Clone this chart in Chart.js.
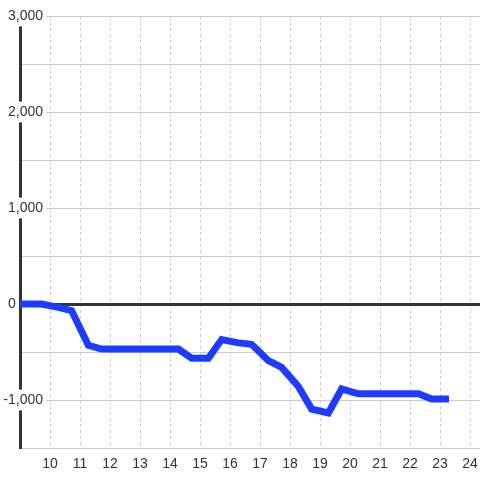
<!DOCTYPE html>
<html><head><meta charset="utf-8">
<script src="https://cdn.jsdelivr.net/npm/chart.js@4"></script>
<style>html,body{margin:0;padding:0;background:#fff}#wrap{width:480px;height:480px}</style>
</head><body><div id="wrap"><canvas id="c"></canvas></div>
<script>
const xValues = [8.72, 9.28, 9.72, 10.28, 10.72, 11.28, 11.72, 12.28, 12.72, 13.28, 13.72, 14.28, 14.72, 15.28, 15.72, 16.28, 16.72, 17.28, 17.72, 18.28, 18.72, 19.28, 19.72, 20.28, 20.72, 21.28, 21.72, 22.28, 22.72, 23.3];
const yValues = [0, 0, 0, -35, -70, -430, -470, -470, -470, -470, -470, -470, -565, -565, -370, -405, -420, -590, -660, -860, -1095, -1135, -885, -935, -935, -935, -935, -935, -990, -990];
const xTicks = [10, 11, 12, 13, 14, 15, 16, 17, 18, 19, 20, 21, 22, 23, 24];
const yTicks = [-1500, -1000, -500, 0, 500, 1000, 1500, 2000, 2500, 3000];
const yTickLabels = {'-1000': '-1,000', '0': '0       ', '1000': '1,000', '2000': '2,000', '3000': '3,000'};

const FONT_FAMILY = "'Liberation Sans', Arial, sans-serif";
const FONT_SIZE = 14;
const FONT = {family: FONT_FAMILY, size: FONT_SIZE};
const points = xValues.map((x, i) => ({x: x, y: yValues[i]}));

// right edge of y labels sits 23px right of the axis line (labels overlap the plot)
const mctx = document.createElement('canvas').getContext('2d');
mctx.font = FONT_SIZE + 'px ' + FONT_FAMILY;
const widestLabel = Math.max.apply(null, Object.values(yTickLabels).map(l => mctx.measureText(l).width));
const yLabelPad = 23 - widestLabel;

new Chart(document.getElementById('c'), {
  type: 'line',
  data: {datasets: [{
    data: points,
    borderColor: '#1e3cff',
    borderWidth: 7,
    pointRadius: 0,
    tension: 0,
    fill: false
  }]},
  options: {
    responsive: true,
    maintainAspectRatio: false,
    animation: false,
    layout: {padding: {top: 16, left: 0, right: 0, bottom: 0}},
    plugins: {legend: {display: false}, tooltip: {enabled: false}},
    scales: {
      x: {
        type: 'linear',
        min: 9,
        max: 24.333,
        afterBuildTicks: s => { s.ticks = xTicks.map(v => ({value: v})); },
        afterFit: s => { s.height = 32; s.paddingLeft = 0; s.paddingRight = 0; },
        grid: {color: '#cccccc', lineWidth: 1, drawTicks: false},
        border: {display: false, dash: [3, 3]},
        ticks: {padding: 8, font: FONT, color: '#333', autoSkip: false, maxRotation: 0, callback: v => String(v)}
      },
      y: {
        type: 'linear',
        min: -1500,
        max: 3000,
        afterBuildTicks: s => { s.ticks = yTicks.map(v => ({value: v})); },
        afterFit: s => { s.width = 20; },
        grid: {
          color: c => (c.tick && c.tick.value === 0) ? '#333' : '#cccccc',
          lineWidth: c => (c.tick && c.tick.value === 0) ? 3 : 1,
          drawTicks: false
        },
        border: {display: true, color: '#333', width: 3},
        ticks: {
          mirror: true,
          crossAlign: 'far',
          padding: yLabelPad,
          font: FONT,
          color: '#333',
          autoSkip: false,
          callback: v => (yTickLabels[String(v)] !== undefined ? yTickLabels[String(v)] : ''),
          showLabelBackdrop: c => c.tick && c.tick.value !== 0 && yTickLabels[String(c.tick.value)] !== undefined,
          backdropColor: '#ffffff',
          backdropPadding: {left: 3, right: 3, top: 2, bottom: 2}
        }
      }
    }
  }
});
</script>
</body></html>
